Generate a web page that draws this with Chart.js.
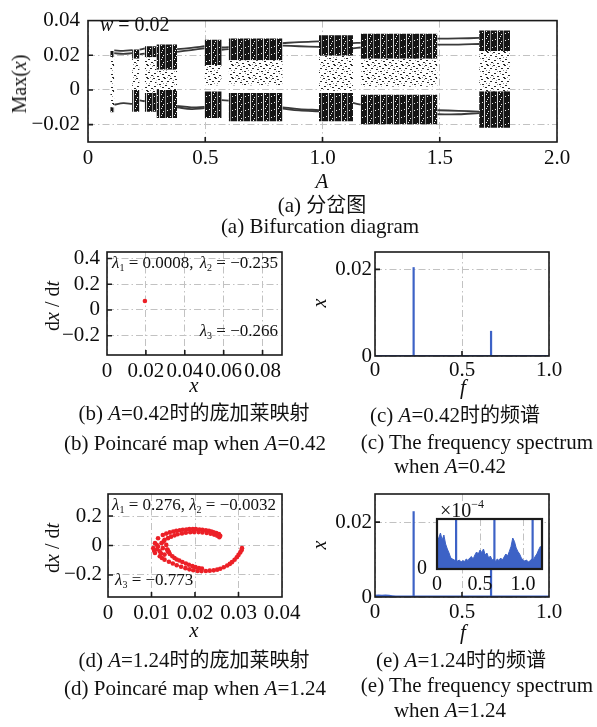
<!DOCTYPE html>
<html><head><meta charset="utf-8">
<script src="https://cdn.jsdelivr.net/npm/chart.js@4.4.1/dist/chart.umd.min.js"></script>
<style>
html,body{margin:0;padding:0;background:#fff;width:597px;height:727px;overflow:hidden}
canvas{position:absolute;left:0;top:0}
.t{position:absolute;transform:translate(-50%,-50%);white-space:nowrap;font-family:"Liberation Serif","Noto Sans CJK SC",serif;font-size:21px;color:#111;line-height:1}
.l{position:absolute;transform:translate(0,-50%);white-space:nowrap;font-family:"Liberation Serif",serif;font-size:17px;color:#111;line-height:1}
.rr{position:absolute;transform:translate(-100%,-50%);white-space:nowrap;font-family:"Liberation Serif",serif;font-size:17px;color:#111;line-height:1}
.rot{transform:translate(-50%,-50%) rotate(-90deg)}
i{font-style:italic}
sub{font-size:10px;vertical-align:-3px}
sup{font-size:12px;vertical-align:9px}
.cj{font-family:"Noto Sans CJK SC",sans-serif;font-size:20px}
</style></head><body>
<canvas id="cA" width="597" height="727"></canvas>
<canvas id="cB" width="597" height="727"></canvas>
<canvas id="cC" width="597" height="727"></canvas>
<canvas id="cD" width="597" height="727"></canvas>
<canvas id="cE" width="597" height="727"></canvas>
<canvas id="cI" width="597" height="727"></canvas>

<div class="l" style="left:100px;top:24px;font-size:20px"><i>w</i> = 0.02</div>
<div class="t rot" style="left:19px;top:84px;font-size:20px">Max(<i>x</i>)</div>
<div class="t" style="left:322px;top:181px"><i>A</i></div>
<div class="t" style="left:322px;top:205px">(a) <span class="cj">分岔图</span></div>
<div class="t" style="left:320px;top:226px">(a) Bifurcation diagram</div>

<div class="l" style="left:112px;top:263px"><i>λ</i><sub>1</sub> = 0.0008,</div>
<div class="rr" style="left:278px;top:263px"><i>λ</i><sub>2</sub> = −0.235</div>
<div class="rr" style="left:278px;top:331px"><i>λ</i><sub>3</sub> = −0.266</div>
<div class="t rot" style="left:52px;top:306px;font-size:20px">d<i>x</i> / d<i>t</i></div>
<div class="t" style="left:194px;top:385px"><i>x</i></div>
<div class="t" style="left:194px;top:413px">(b) <i>A</i>=0.42<span class="cj">时的庞加莱映射</span></div>
<div class="t" style="left:195px;top:443px">(b) Poincaré map when <i>A</i>=0.42</div>

<div class="t rot" style="left:319px;top:303px;font-size:20px"><i>x</i></div>
<div class="t" style="left:463px;top:387px"><i>f</i></div>
<div class="t" style="left:455px;top:415px">(c) <i>A</i>=0.42<span class="cj">时的频谱</span></div>
<div class="t" style="left:477px;top:442px">(c) The frequency spectrum</div>
<div class="t" style="left:450px;top:466px">when <i>A</i>=0.42</div>

<div class="l" style="left:112px;top:505px"><i>λ</i><sub>1</sub> = 0.276, <i>λ</i><sub>2</sub> = −0.0032</div>
<div class="l" style="left:115px;top:580px"><i>λ</i><sub>3</sub> = −0.773</div>
<div class="t rot" style="left:52px;top:548px;font-size:20px">d<i>x</i> / d<i>t</i></div>
<div class="t" style="left:194px;top:630px"><i>x</i></div>
<div class="t" style="left:194px;top:660px">(d) <i>A</i>=1.24<span class="cj">时的庞加莱映射</span></div>
<div class="t" style="left:195px;top:688px">(d) Poincaré map when <i>A</i>=1.24</div>

<div class="t rot" style="left:319px;top:545px;font-size:20px"><i>x</i></div>
<div class="t" style="left:463px;top:632px"><i>f</i></div>
<div class="t" style="left:461px;top:660px">(e) <i>A</i>=1.24<span class="cj">时的频谱</span></div>
<div class="t" style="left:477px;top:685px">(e) The frequency spectrum</div>
<div class="t" style="left:450px;top:710px">when <i>A</i>=1.24</div>
<div class="l" style="left:440px;top:509px;font-size:20px;z-index:5">×10<sup>−4</sup></div>

<script>
// ================= DATA =================
// (a) bifurcation diagram, w = 0.02
const bifXTicks  = [0, 0.5, 1.0, 1.5, 2.0];
const bifXLabels = ['0', '0.5', '1.0', '1.5', '2.0'];
const bifYTicks  = [-0.02, 0, 0.02, 0.04];
const bifYLabels = ['−0.02', '0', '0.02', '0.04'];
// chaotic windows (A range) and the extents of their dense upper band, scattered middle and dense lower band
const chaosStart  = [0.095, 0.188, 0.242, 0.292, 0.497, 0.600, 0.985, 1.163, 1.668];
const chaosEnd    = [0.112, 0.220, 0.292, 0.380, 0.570, 0.830, 1.130, 1.490, 1.800];
const upperBandHi = [0.0225, 0.0234, 0.0252, 0.0262, 0.0289, 0.0297, 0.0316, 0.0324, 0.0343];
const upperBandLo = [0.0190, 0.0180, 0.0189, 0.0117, 0.0144, 0.0171, 0.0198, 0.0180, 0.0225];
const scatterLo   = [-0.0100, 0.0000, -0.0018, 0.0000, 0.0027, 0.0027, -0.0005, 0.0020, -0.0007];
const lowerBandHi = [-0.0100, 0.0000, -0.0018, 0.0000, -0.0009, -0.0018, -0.0018, -0.0027, -0.0007];
const lowerBandLo = [-0.0128, -0.0126, -0.0126, -0.0162, -0.0162, -0.0180, -0.0180, -0.0198, -0.0218];
// periodic branches between the windows
const branchA    = [[0.112, 0.150, 0.188], [0.220, 0.242], [0.380, 0.440, 0.497], [0.570, 0.600], [0.830, 0.900, 0.985], [1.130, 1.163], [1.490, 1.580, 1.668]];
const branchUp1  = [[0.0228, 0.0226, 0.0230], [0.0232, 0.0240], [0.0235, 0.0243, 0.0252], [0.0245, 0.0247], [0.0270, 0.0276, 0.0280], [0.0270, 0.0272], [0.0296, 0.0297, 0.0300]];
const branchUp2  = [[0.0212, 0.0208, 0.0212], [0.0205, 0.0210], [0.0220, 0.0230, 0.0240], [0.0232, 0.0236], [0.0256, 0.0252, 0.0248], [0.0240, 0.0245], [0.0262, 0.0262, 0.0265]];
const branchLow1 = [[-0.0085, -0.0076, -0.0080], [-0.0060, -0.0065], [-0.0100, -0.0110, -0.0105], [-0.0058, -0.0062], [-0.0108, -0.0118, -0.0123], [-0.0075, -0.0085], [-0.0117, -0.0120, -0.0125]];
const branchLow2 = [null, null, [-0.0092, -0.0100, -0.0098], null, [-0.0100, -0.0110, -0.0116], null, [-0.0140, -0.0140, -0.0133]];

// (b) Poincaré map, A = 0.42
const pbXTicks = [0, 0.02, 0.04, 0.06, 0.08];
const pbXLabels = ['0', '0.02', '0.04', '0.06', '0.08'];
const pbYTicks = [-0.2, 0, 0.2, 0.4];
const pbYLabels = ['−0.2', '0', '0.2', '0.4'];
const pbX = [0.0195];
const pbY = [0.070];

// (c) spectrum, A = 0.42
const spXTicks = [0, 0.5, 1.0];
const spXLabels = ['0', '0.5', '1.0'];
const spYTicks = [0, 0.02];
const spYLabels = ['0', '0.02'];
const cFreq = [0.222, 0.667];
const cAmp  = [0.0205, 0.0058];

// (d) Poincaré map, A = 1.24
const pdXTicks = [0, 0.01, 0.02, 0.03, 0.04];
const pdXLabels = ['0', '0.01', '0.02', '0.03', '0.04'];
const pdYTicks = [-0.2, 0, 0.2];
const pdYLabels = ['−0.2', '0', '0.2'];
const pdX = [0.0108,0.0115,0.0126,0.0134,0.0142,0.0150,0.0157,0.0165,0.0172,0.0180,0.0187,0.0195,0.0202,0.0210,0.0217,0.0225,0.0232,0.0238,0.0243,0.0249,0.0255,0.0258,0.0256,
  0.0130,0.0138,0.0145,0.0153,0.0160,0.0170,0.0179,0.0189,0.0198,0.0208,0.0217,0.0227,0.0236,0.0244,0.0251,
  0.0104,0.0106,0.0108,0.0112,0.0115,0.0119,0.0119,0.0123,0.0126,0.0128,0.0130,0.0134,0.0136,0.0138,0.0122,0.0113,0.0140,0.0137,
  0.0142,0.0148,0.0153,0.0158,0.0164,0.0171,0.0179,0.0186,0.0194,0.0201,0.0209,0.0216,
  0.0124,0.0130,0.0140,0.0149,0.0158,0.0168,0.0178,0.0187,0.0196,0.0206,0.0215,0.0225,0.0234,0.0243,0.0251,0.0258,0.0266,0.0274,0.0280,0.0285,0.0291,0.0296,0.0300,0.0304,0.0307,0.0308];
const pdY = [0.016,0.049,0.071,0.081,0.089,0.095,0.100,0.104,0.107,0.109,0.111,0.112,0.111,0.109,0.107,0.104,0.100,0.095,0.089,0.084,0.078,0.066,0.056,
  0.038,0.050,0.060,0.069,0.076,0.082,0.087,0.090,0.091,0.091,0.089,0.085,0.080,0.074,0.067,
  -0.018,-0.035,-0.051,0.005,-0.007,-0.040,-0.073,0.016,-0.018,0.028,-0.062,0.004,-0.028,-0.040,-0.055,-0.025,-0.045,-0.030,
  -0.058,-0.073,-0.085,-0.095,-0.102,-0.112,-0.122,-0.131,-0.140,-0.147,-0.153,-0.157,
  -0.085,-0.096,-0.110,-0.122,-0.134,-0.144,-0.154,-0.162,-0.168,-0.173,-0.174,-0.173,-0.171,-0.169,-0.164,-0.158,-0.148,-0.136,-0.125,-0.113,-0.097,-0.080,-0.064,-0.047,-0.032,-0.018];

// (e) spectrum, A = 1.24
const eFreq = [0.222, 0.667];
const eAmp  = [0.0229, 0.0085];
const eNoiseF = [0, 0.02, 0.04, 0.06, 0.08, 0.10, 0.12, 0.40, 1.0];
const eNoiseA = [0.0003, 0.0004, 0.0003, 0.0004, 0.0003, 0.0002, 0.0001, 0.0001, 0.0001];
// inset (units of 1e-4)
const inXTicks = [0, 0.5, 1.0];
const inXLabels = ['0', '0.5', '1.0'];
const inYTicks = [0];
const inYLabels = ['0'];
const inFreq = [0.00,0.02,0.04,0.06,0.08,0.10,0.12,0.14,0.16,0.18,0.20,0.24,0.26,0.28,0.30,0.32,0.34,0.36,0.38,0.40,0.42,0.44,0.46,0.48,0.50,0.52,0.54,0.56,0.58,0.60,0.62,0.64,0.66,0.68,0.70,0.72,0.74,0.76,0.78,0.80,0.82,0.84,0.86,0.88,0.90,0.92,0.94,0.96,0.98,1.00,1.02,1.04,1.06,1.08,1.10,1.12,1.14,1.16,1.18,1.20,1.22];
const inAmp  = [0.55,0.62,0.72,0.58,0.68,0.50,0.40,0.32,0.22,0.20,0.18,0.16,0.18,0.14,0.17,0.15,0.20,0.17,0.22,0.25,0.20,0.28,0.34,0.30,0.38,0.33,0.40,0.28,0.32,0.22,0.26,0.18,0.20,0.15,0.20,0.17,0.22,0.18,0.24,0.30,0.26,0.35,0.45,0.62,0.55,0.42,0.35,0.30,0.22,0.18,0.16,0.18,0.14,0.16,0.20,0.18,0.25,0.30,0.38,0.45,0.42];
const inSpikeF = [0.222, 0.667, 1.111];
const inSpikeA = [1.3, 1.3, 1.3];

// ================= DRAWING =================
const PW = 597, PH = 727;
const BLUE = '#3d62c6', RED = '#ec2027';
Chart.defaults.font.family = 'Liberation Serif';
Chart.defaults.color = '#111';

const frame = {
  id: 'frame',
  beforeDraw(chart, args, o) {
    if (o.white) { const a = chart.chartArea, c = chart.ctx; c.save(); c.fillStyle = '#fff'; c.fillRect(a.left, a.top, a.right - a.left, a.bottom - a.top); c.restore(); }
  },
  afterDatasetsDraw(chart, args, o) {
    const {ctx, chartArea: a, scales} = chart;
    ctx.save();
    ctx.strokeStyle = '#1a1a1a'; ctx.lineWidth = o.lw || 1.6;
    const tl = o.tick === undefined ? 5 : o.tick;
    if (tl > 0) {
      ctx.beginPath();
      scales.x.ticks.forEach(t => { const p = scales.x.getPixelForValue(t.value); if (p > a.left + 2 && p < a.right - 2) { ctx.moveTo(p, a.bottom); ctx.lineTo(p, a.bottom - tl); } });
      scales.y.ticks.forEach(t => { const p = scales.y.getPixelForValue(t.value); if (p > a.top + 2 && p < a.bottom - 2) { ctx.moveTo(a.left, p); ctx.lineTo(a.left + tl, p); } });
      ctx.stroke();
    }
    ctx.strokeRect(a.left, a.top, a.right - a.left, a.bottom - a.top);
    ctx.restore();
  }
};

function makeChart(id, box, yW, xT, xL, yT, yL, xr, yr, datasets, o) {
  o = o || {};
  const fs = o.fs || 21;
  return new Chart(document.getElementById(id), {
    type: 'line',
    data: { datasets },
    options: {
      responsive: false, animation: false, devicePixelRatio: 1, events: [],
      layout: { padding: { left: box.l - yW, top: box.t, right: PW - box.r, bottom: PH - box.b - 40 } },
      plugins: { legend: { display: false }, tooltip: { enabled: false }, frame: { white: o.white, lw: o.lw, tick: o.tick } },
      elements: { point: { radius: 0 }, line: { tension: 0 } },
      scales: {
        x: { type: 'linear', min: xr[0], max: xr[1],
             afterFit: s => { s.height = 40; },
             afterBuildTicks: s => { s.ticks = xT.map(v => ({ value: v })); },
             ticks: { autoSkip: false, maxRotation: 0, minRotation: 0, padding: o.xpad === undefined ? 4 : o.xpad, font: { size: fs }, color: '#0d0d0d', callback: (v, i) => xL[i] },
             grid: { color: o.gridColor || '#c2c2c2', lineWidth: 1, drawTicks: false },
             border: { display: false, dash: [7, 3, 1.5, 3] } },
        y: { type: 'linear', min: yr[0], max: yr[1],
             afterFit: s => { s.width = yW; },
             afterBuildTicks: s => { s.ticks = yT.map(v => ({ value: v })); },
             ticks: { autoSkip: false, padding: o.ypad === undefined ? 6 : o.ypad, font: { size: fs }, color: '#0d0d0d', callback: (v, i) => yL[i] },
             grid: { color: o.gridColor || '#c2c2c2', lineWidth: 1, drawTicks: false, display: o.ygrid === undefined ? true : o.ygrid },
             border: { display: false, dash: [7, 3, 1.5, 3] } }
      }
    },
    plugins: [frame]
  });
}

// patterns (fill styles only)
function stripePattern() {
  const t = document.createElement('canvas'); t.width = 13; t.height = 7;
  const g = t.getContext('2d');
  g.fillStyle = '#151515'; g.fillRect(0, 0, 13, 7);
  g.fillStyle = '#d4d4d4'; g.fillRect(3, 0, 1, 7);
  g.fillStyle = '#8a8a8a'; g.fillRect(9, 0, 1, 7);
  g.fillStyle = '#f2f2f2';
  [[6,1],[1,4],[11,5],[7,6],[5,3]].forEach(p => g.fillRect(p[0], p[1], 1, 1));
  return g.createPattern(t, 'repeat');
}
function speckPattern() {
  const t = document.createElement('canvas'); t.width = 17; t.height = 13;
  const g = t.getContext('2d');
  g.fillStyle = '#ffffff'; g.fillRect(0, 0, 17, 13);
  g.fillStyle = '#2a2a2a';
  [[0,0],[5,1],[11,0],[14,3],[2,4],[8,3],[6,6],[12,7],[1,8],[9,9],[15,10],[4,11],[10,12]].forEach(p => g.fillRect(p[0], p[1], 2, 1));
  g.fillStyle = '#9a9a9a';
  [[16,1],[4,6],[10,5],[0,11],[14,12],[7,8],[13,5],[3,2]].forEach(p => g.fillRect(p[0], p[1], 1, 1));
  return g.createPattern(t, 'repeat');
}
const STRIPE = stripePattern(), SPECK = speckPattern();

function band(list, s, e, lo, hi, bg) {
  list.push({ data: [{ x: s, y: hi }, { x: e, y: hi }], fill: '+1', backgroundColor: bg, borderColor: 'transparent', borderWidth: 0 });
  list.push({ data: [{ x: s, y: lo }, { x: e, y: lo }], fill: false, borderColor: 'transparent', borderWidth: 0 });
}

// ---- (a)
const bifDS = [];
chaosStart.forEach((s, i) => {
  const e = chaosEnd[i];
  band(bifDS, s, e, scatterLo[i], upperBandLo[i], SPECK);
  band(bifDS, s, e, upperBandLo[i], upperBandHi[i], STRIPE);
  band(bifDS, s, e, lowerBandLo[i], lowerBandHi[i], STRIPE);
});
[branchUp1, branchUp2, branchLow1, branchLow2].forEach(br => {
  branchA.forEach((as, k) => {
    if (!br[k]) return;
    bifDS.push({ data: as.map((a, j) => ({ x: a, y: br[k][j] })), borderColor: '#3a3a3a', borderWidth: 1.8, fill: false, tension: 0.35 });
  });
});
makeChart('cA', { l: 88, t: 13, r: 557, b: 142 }, 86, bifXTicks, bifXLabels, bifYTicks, bifYLabels, [0, 2], [-0.03, 0.04], bifDS, { ypad: 8, xpad: 4 });

// ---- (b)
makeChart('cB', { l: 107, t: 252, r: 282, b: 355 }, 105, pbXTicks, pbXLabels, pbYTicks, pbYLabels, [0, 0.09], [-0.35, 0.45],
  [{ data: pbX.map((x, i) => ({ x, y: pbY[i] })), showLine: false, pointRadius: 2.3, pointBackgroundColor: RED, pointBorderWidth: 0 }],
  { ypad: 7, xpad: 4 });

// ---- (c)
const cDS = [{ data: [{ x: 0, y: 0 }, { x: 1, y: 0 }], borderColor: BLUE, borderWidth: 2.2, fill: false }];
cFreq.forEach((f, i) => cDS.push({ data: [{ x: f, y: 0 }, { x: f, y: cAmp[i] }], borderColor: BLUE, borderWidth: 2.2, fill: false }));
makeChart('cC', { l: 375, t: 252, r: 549, b: 356 }, 70, spXTicks, spXLabels, spYTicks, spYLabels, [0, 1], [0, 0.024], cDS, { ypad: 3, xpad: 2 });

// ---- (d)
makeChart('cD', { l: 108, t: 494, r: 282, b: 597 }, 105, pdXTicks, pdXLabels, pdYTicks, pdYLabels, [0, 0.04], [-0.35, 0.35],
  [{ data: pdX.map((x, i) => ({ x, y: pdY[i] })), showLine: false, pointRadius: 2.3, pointBackgroundColor: RED, pointBorderWidth: 0 }],
  { ypad: 6, xpad: 4 });

// ---- (e)
const eDS = [{ data: eNoiseF.map((f, i) => ({ x: f, y: eNoiseA[i] })), borderColor: BLUE, borderWidth: 2.2, fill: 'origin', backgroundColor: BLUE }];
eFreq.forEach((f, i) => eDS.push({ data: [{ x: f, y: 0 }, { x: f, y: eAmp[i] }], borderColor: BLUE, borderWidth: 2.2, fill: false }));
makeChart('cE', { l: 375, t: 494, r: 549, b: 597 }, 70, spXTicks, spXLabels, spYTicks, spYLabels, [0, 1], [0, 0.0275], eDS, { ypad: 3, xpad: 3 });

// ---- inset of (e)
const iDS = [{ data: inFreq.map((f, i) => ({ x: f, y: inAmp[i] })), borderColor: BLUE, borderWidth: 1, fill: 'origin', backgroundColor: BLUE }];
inSpikeF.forEach((f, i) => iDS.push({ data: [{ x: f, y: 0 }, { x: f, y: inSpikeA[i] }], borderColor: BLUE, borderWidth: 2.2, fill: false }));
makeChart('cI', { l: 437, t: 519, r: 542, b: 569 }, 30, inXTicks, inXLabels, inYTicks, inYLabels, [0, 1.22], [0, 1], iDS,
  { ypad: 10, xpad: 4, white: true, lw: 2.2, tick: 0, ygrid: false, fs: 20 });
</script>
</body></html>
